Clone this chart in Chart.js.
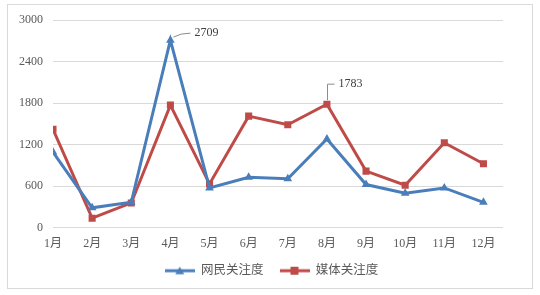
<!DOCTYPE html>
<html>
<head>
<meta charset="utf-8">
<script src="https://cdn.jsdelivr.net/npm/chart.js@4"></script>
<style>
  body { margin: 0; background: #fff; }
  #wrap { width: 540px; height: 295px; position: relative; }
</style>
</head>
<body>
<div id="wrap"><canvas id="c"></canvas></div>
<script>
// データ
const months = ['1月', '2月', '3月', '4月', '5月', '6月', '7月', '8月', '9月', '10月', '11月', '12月'];
const netizen = [1090, 285, 365, 2709, 572, 725, 705, 1280, 621, 495, 572, 364];
const media = [1420, 135, 355, 1770, 630, 1610, 1485, 1783, 815, 611, 1225, 921];
const yTicks = [0, 600, 1200, 1800, 2400, 3000];

const BLUE = '#4A7EBB';
const RED = '#BE4B48';
const FONT = '"Liberation Serif", "Noto Sans CJK SC", serif';

// 凡例用アイコン（線＋マーカー）
function legendIcon(color, shape) {
  const cv = document.createElement('canvas');
  cv.width = 30; cv.height = 10;
  const g = cv.getContext('2d');
  g.strokeStyle = color; g.lineWidth = 3;
  g.beginPath(); g.moveTo(0, 5); g.lineTo(30, 5); g.stroke();
  g.fillStyle = color;
  if (shape === 'tri') {
    g.beginPath(); g.moveTo(15, 1); g.lineTo(19.5, 8.5); g.lineTo(10.5, 8.5); g.closePath(); g.fill();
  } else {
    g.fillRect(11, 1, 8, 8);
  }
  return cv;
}

const toPts = arr => arr.map((v, i) => ({ x: i + 1, y: v }));

// 枠線とデータラベル
const extras = {
  id: 'extras',
  afterLayout(chart) {
    // 凡例を少し右へ
    chart.legend.left += 20;
    chart.legend.right += 20;
  },
  beforeDraw(chart) {
    const ctx = chart.ctx;
    ctx.save();
    ctx.strokeStyle = '#D9D9D9';
    ctx.lineWidth = 1;
    ctx.strokeRect(7.5, 4.5, 525, 284);
    ctx.restore();
  },
  afterDatasetsDraw(chart) {
    const ctx = chart.ctx;
    ctx.save();
    ctx.font = '12px ' + FONT;
    ctx.fillStyle = '#404040';
    ctx.textBaseline = 'middle';
    ctx.strokeStyle = '#8C8C8C';
    ctx.lineWidth = 1;

    // 2709
    const p1 = chart.getDatasetMeta(0).data[3];
    ctx.beginPath();
    ctx.moveTo(p1.x + 3, p1.y - 3);
    ctx.quadraticCurveTo(p1.x + 10, p1.y - 7, p1.x + 20, p1.y - 7);
    ctx.stroke();
    ctx.fillText(String(netizen[3]), p1.x + 24, p1.y - 7);

    // 1783
    const p2 = chart.getDatasetMeta(1).data[7];
    const lx = Math.round(p2.x) + 0.5;
    ctx.beginPath();
    ctx.moveTo(lx, p2.y - 4);
    ctx.lineTo(lx, p2.y - 20);
    ctx.lineTo(lx + 7, p2.y - 20);
    ctx.stroke();
    ctx.fillText(String(media[7]), lx + 11, p2.y - 20);
    ctx.restore();
  }
};

new Chart(document.getElementById('c'), {
  type: 'line',
  data: {
    datasets: [
      {
        label: '网民关注度',
        data: toPts(netizen),
        borderColor: BLUE,
        backgroundColor: BLUE,
        borderWidth: 3,
        pointStyle: 'triangle',
        pointRadius: 5,
        pointBorderWidth: 0,
        tension: 0
      },
      {
        label: '媒体关注度',
        data: toPts(media),
        borderColor: RED,
        backgroundColor: RED,
        borderWidth: 3,
        pointStyle: 'rect',
        pointRadius: 5,
        pointBorderWidth: 0,
        tension: 0
      }
    ]
  },
  options: {
    responsive: true,
    maintainAspectRatio: false,
    animation: false,
    layout: { padding: { top: 20, right: 37, left: 0, bottom: 8 } },
    scales: {
      x: {
        type: 'linear',
        min: 1,
        max: 12.5,
        grid: { display: false },
        border: { display: false },
        afterFit: s => { s.height = 21; },
        afterBuildTicks: s => { s.ticks = months.map((m, i) => ({ value: i + 1 })); },
        ticks: {
          autoSkip: false,
          maxRotation: 0,
          color: '#595959',
          font: { family: FONT, size: 12 },
          padding: 1,
          callback: v => months[v - 1]
        }
      },
      y: {
        min: 0,
        max: 3000,
        afterFit: s => { s.width = 53; },
        afterBuildTicks: s => { s.ticks = yTicks.map(v => ({ value: v })); },
        grid: { color: '#D9D9D9', drawTicks: false, lineWidth: 1 },
        border: { display: false },
        ticks: {
          color: '#595959',
          font: { family: FONT, size: 12 },
          padding: 10,
          callback: v => String(v)
        }
      }
    },
    plugins: {
      tooltip: { enabled: false },
      legend: {
        position: 'bottom',
        labels: {
          usePointStyle: true,
          pointStyleWidth: 30,
          boxHeight: 10,
          color: '#595959',
          font: { family: FONT, size: 12.5 },
          padding: 16,
          generateLabels: chart => chart.data.datasets.map((d, i) => ({
            text: d.label,
            datasetIndex: i,
            fontColor: '#595959',
            pointStyle: legendIcon(d.borderColor, i === 0 ? 'tri' : 'rect'),
            lineWidth: 0,
            strokeStyle: 'transparent',
            fillStyle: 'transparent'
          }))
        }
      }
    }
  },
  plugins: [extras]
});
</script>
</body>
</html>
